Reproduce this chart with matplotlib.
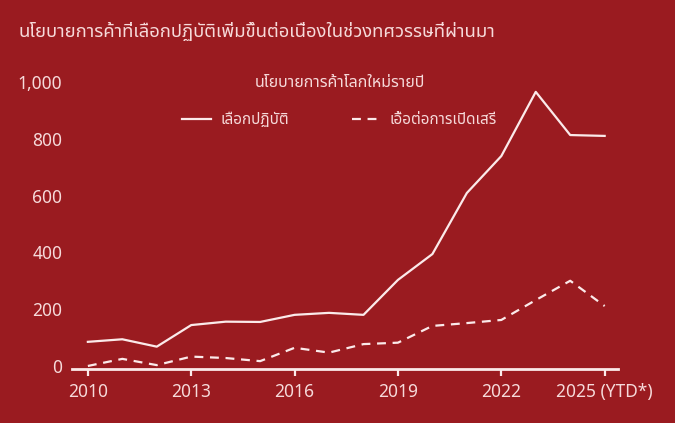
import matplotlib
matplotlib.use("Agg")
import matplotlib.pyplot as plt
from matplotlib import font_manager

# data
YEARS = list(range(2010, 2026))
IMPLEMENTED = [85, 94, 68, 144, 156, 155, 180, 187, 180, 303, 394, 609, 739, 965, 813, 810]
LIBERALISING = [0, 25, 3, 33, 28, 17, 64, 47, 77, 82, 141, 151, 162, 232, 300, 211]
XTICKS = [2010, 2013, 2016, 2019, 2022, 2025]
XTICK_LABELS = ['2010', '2013', '2016', '2019', '2022', '2025 (YTD*)']
YTICKS = [0, 200, 400, 600, 800, 1000]
YTICK_LABELS = ['0', '200', '400', '600', '800', '1,000']

TITLE = 'นโยบายการค้าที่เลือกปฏิบัติเพิ่มขึ้นต่อเนื่องในช่วงทศวรรษที่ผ่านมา'
LEGEND_TITLE = 'นโยบายการค้าโลกใหม่รายปี'
LABEL_1 = 'เลือกปฏิบัติ'
LABEL_2 = 'เอื้อต่อการเปิดเสรี'

BG = '#9a1b20'
FG = '#f6dada'
LINE = '#fbeaea'

# pick a font that has Thai glyphs, if one is installed
installed = {f.name for f in font_manager.fontManager.ttflist}
thai_candidates = ['Noto Sans Thai', 'Noto Sans Thai UI', 'Noto Sans Thai Looped', 'Sarabun',
                   'Loma', 'Garuda', 'Waree', 'Norasi', 'Kinnari', 'Umpush', 'Tlwg Typo',
                   'Laksaman', 'TH Sarabun New']
families = [f for f in thai_candidates if f in installed] + ['DejaVu Sans']
plt.rcParams['font.family'] = families

fig = plt.figure(figsize=(6.75, 4.23), dpi=100, facecolor=BG)
ax = fig.add_axes([0.1067, 0.1277, 0.809, 0.7068])
ax.set_facecolor(BG)

ax.plot(YEARS, IMPLEMENTED, color=LINE, lw=1.6, label=LABEL_1)
ax.plot(YEARS, LIBERALISING, color=LINE, lw=1.6, ls=(0, (4, 3)), label=LABEL_2)

ax.set_xlim(2009.54, 2025.39)
ax.set_ylim(-10.6, 1042)
ax.set_xticks(XTICKS)
ax.set_xticklabels(XTICK_LABELS)
ax.set_yticks(YTICKS)
ax.set_yticklabels(YTICK_LABELS)

for s in ['top', 'right', 'left']:
    ax.spines[s].set_visible(False)
ax.spines['bottom'].set_color(LINE)
ax.spines['bottom'].set_linewidth(2)
ax.tick_params(axis='x', colors=LINE, length=5, width=1.6, labelsize=12.5, labelcolor=FG, pad=5)
ax.tick_params(axis='y', length=0, labelsize=12.5, labelcolor=FG, pad=7)

leg = ax.legend(title=LEGEND_TITLE, ncol=2, frameon=False, loc='upper center',
                bbox_to_anchor=(0.49, 1.03), fontsize=11, title_fontsize=11.5,
                handlelength=1.9, handletextpad=0.6, columnspacing=4.1, labelcolor=FG)
leg.get_title().set_color(FG)
leg._legend_box.sep = 16

fig.text(0.027, 0.925, TITLE, color=FG, fontsize=13.3, ha='left', va='center')

fig.savefig('out.png', dpi=100, facecolor=BG)
